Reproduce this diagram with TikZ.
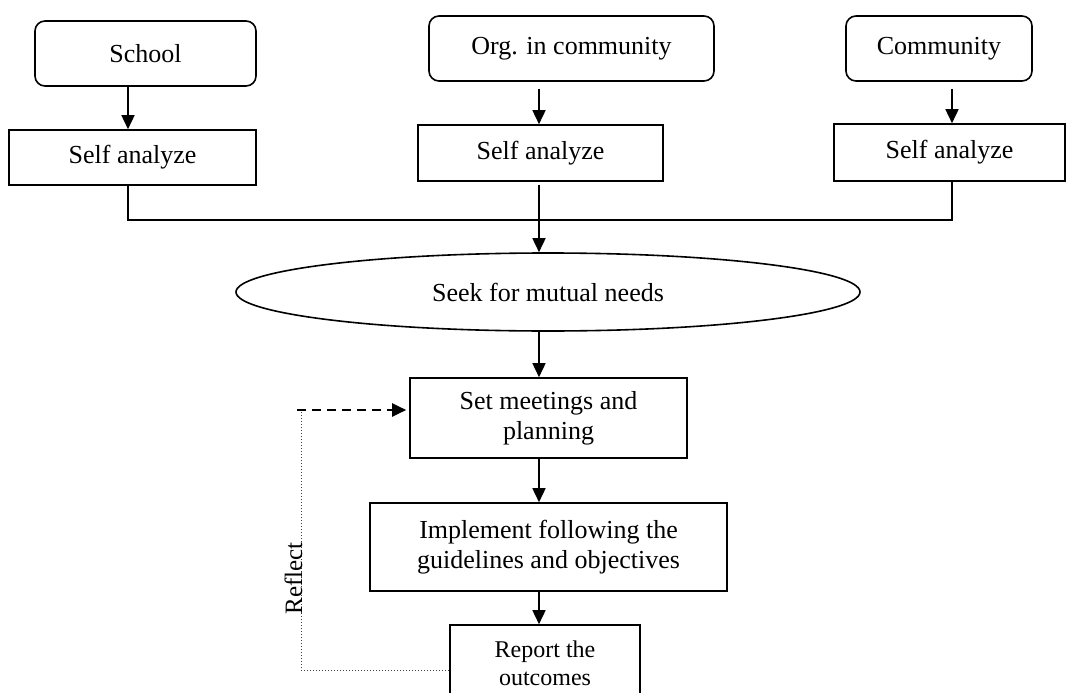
\documentclass[tikz,border=0pt]{standalone}
\usepackage{fontspec}
\setmainfont{Liberation Serif}
\usetikzlibrary{arrows.meta,shapes.geometric}

\tikzset{
  box/.style={draw, line width=1.6pt, inner sep=0pt, align=center,
              font=\fontsize{26}{30}\selectfont},
  rbox/.style={box, rounded corners=10pt},
  oval/.style={draw, ellipse, line width=1.6pt, inner sep=0pt,
               font=\fontsize{26}{30}\selectfont},
  conn/.style={line width=1.6pt},
  arr/.style={conn, -{Triangle[length=14pt,width=13pt]}},
  feedback/.style={line width=2pt, dash pattern=on 9pt off 6pt,
                   -{Triangle[length=14pt,width=13pt]}},
  trail/.style={line width=0.9pt, dash pattern=on 1.5pt off 1.5pt, black!75}
}

\begin{document}
\begin{tikzpicture}[x=1pt,y=-1pt]
  \useasboundingbox (0,0) rectangle (1068,693);
  \clip (0,0) rectangle (1068,693);

  % columns of the three source branches
  \coordinate (colA) at (128,0);
  \coordinate (colB) at (539,0);
  \coordinate (colC) at (952,0);

  % sources
  \node[rbox, minimum width=221pt, minimum height=65pt] (school) at (145.5,53.5) {School};
  \node[rbox, minimum width=285pt, minimum height=65pt] (org) at (571.5,48.5) {Org. in community};
  \node[rbox, minimum width=186pt, minimum height=65pt] (comm) at (939,48.5) {Community};

  % self analysis boxes
  \node[box, minimum width=247pt, minimum height=55pt] (saA) at (132.5,157.5) {Self analyze};
  \node[box, minimum width=245pt, minimum height=56pt] (saB) at (540.5,153) {Self analyze};
  \node[box, minimum width=231pt, minimum height=57pt] (saC) at (949.5,152.5) {Self analyze};

  % main flow
  \node[oval, minimum width=624pt, minimum height=78pt] (seek) at (548,292) {Seek for mutual needs};
  \node[box, minimum width=277pt, minimum height=80pt] (meet) at (548.5,418) {Set meetings and\\planning};
  \node[box, minimum width=357pt, minimum height=88pt] (impl) at (548.5,547) {Implement following the\\guidelines and objectives};
  \node[box, minimum width=190pt, minimum height=76pt,
        font=\fontsize{24}{28}\selectfont] (report) at (545,663) {Report the\\outcomes};

  % source -> self analysis
  \draw[arr] (school.south -| colA) -- (saA.north -| colA);
  \draw[arr] ([yshift=-7pt]org.south -| colB) -- (saB.north -| colB);
  \draw[arr] ([yshift=-7pt]comm.south -| colC) -- (saC.north -| colC);

  % merge of the three branches
  \coordinate (merge) at (539,220);
  \draw[conn] (saA.south -| colA) |- (merge) -| (saC.south -| colC);
  \draw[conn] ([yshift=-3pt]saB.south -| colB) -- (merge);
  \draw[arr] (merge) -- (seek.north -| colB);

  % downward chain
  \draw[arr] (seek.south -| colB) -- (meet.north -| colB);
  \draw[arr] (meet.south -| colB) -- (impl.north -| colB);
  \draw[arr] (impl.south -| colB) -- (report.north -| colB);

  % reflection loop
  \coordinate (loopLow) at (301,670);
  \coordinate (loopHigh) at (301,410);
  \draw[trail] (report.west |- loopLow) -- (loopLow) -- (loopHigh);
  \draw[feedback] ([xshift=-4pt]loopHigh) -- ([xshift=-3pt]meet.west |- loopHigh);
  \node[rotate=90, anchor=base, inner sep=0pt,
        font=\fontsize{25}{30}\selectfont] (reflect) at (302,578.5) {Reflect};
\end{tikzpicture}
\end{document}
